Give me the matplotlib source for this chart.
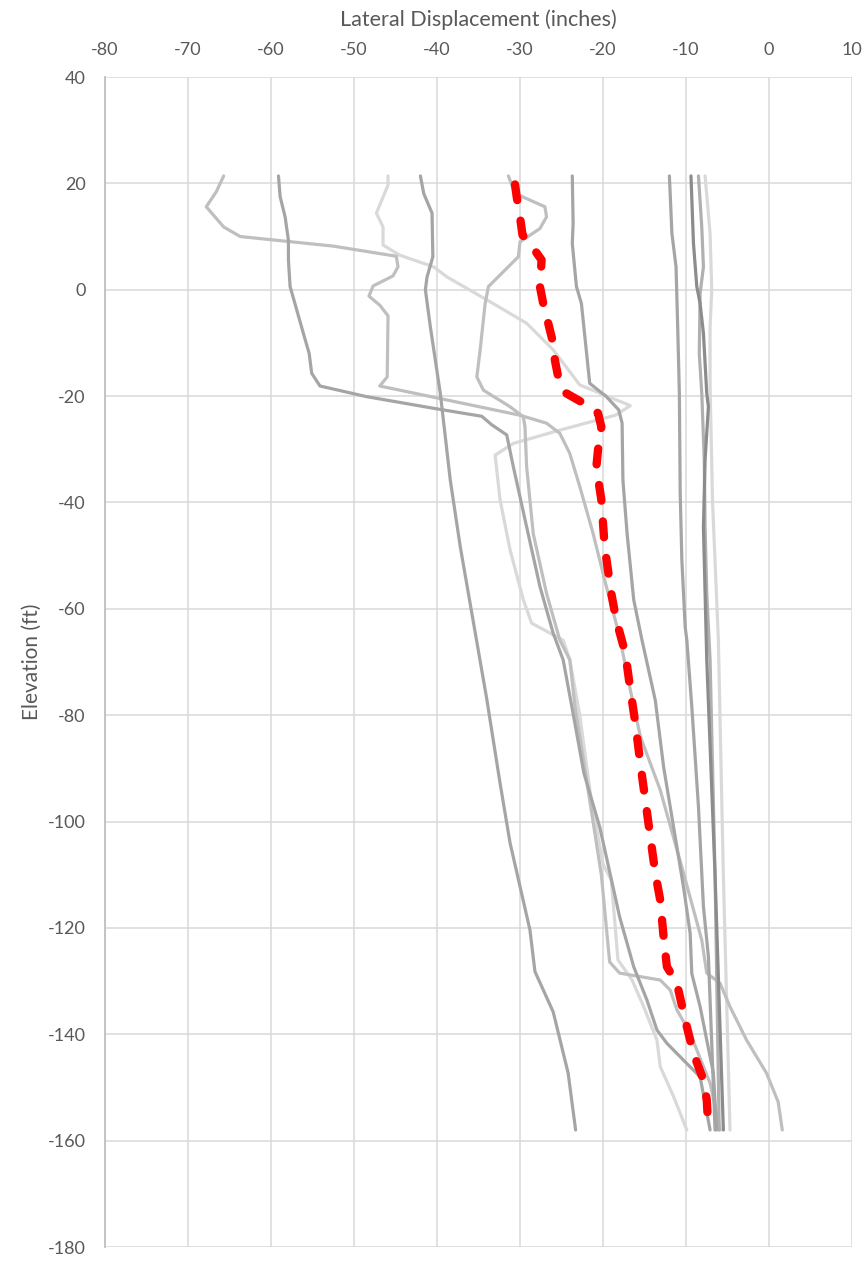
import matplotlib
matplotlib.use("Agg")
import matplotlib.pyplot as plt


plt.rcParams["font.family"] = ["Lato", "DejaVu Sans"]
plt.rcParams["axes.unicode_minus"] = False

# displacement profiles (inches) vs elevation (ft)
a_x = [-65.7, -66.6, -67.8, -65.7, -63.7, -52.5, -44.9, -44.7, -45.3, -47.7, -48.2, -46.9, -45.9, -46.0, -46.9,
       -30.0, -26.8, -25.2, -24.0, -22.8, -21.2, -19.6, -18.3, -17.6, -16.7, -15.5, -13.1, -10.3, -8.1, -7.5,
       -5.9, -4.7, -2.7, -0.3, 1.1, 1.6]
a_y = [21.4, 18.4, 15.6, 11.8, 10.0, 8.2, 6.3, 4.3, 2.6, 0.7, -1.2, -2.9, -4.9, -16.4, -18.1,
       -23.6, -25.1, -27.0, -30.8, -37.0, -45.8, -55.8, -63.4, -68.4, -75.3, -84.0, -94.1, -109.7, -122.3, -128.5,
       -130.4, -134.8, -141.1, -147.3, -152.7, -158.0]

b_x = [-59.1, -58.9, -58.3, -57.9, -57.9, -57.7, -56.9, -56.1, -55.4, -55.1, -54.1, -48.5, -40.4, -34.6, -33.4,
       -31.6, -30.8, -29.2, -27.6, -26.0, -24.8, -23.6, -22.3, -20.4, -19.6, -18.0, -16.3, -14.7, -13.5, -12.3,
       -9.9, -8.3, -7.1]
b_y = [21.4, 17.5, 13.7, 9.3, 5.6, 0.6, -3.8, -8.2, -12.0, -15.7, -18.1, -20.1, -22.3, -23.8, -25.4,
       -27.3, -33.3, -44.6, -55.8, -64.6, -69.6, -79.7, -90.9, -101.0, -106.6, -117.9, -127.3, -133.6, -139.2, -141.7,
       -145.5, -148.0, -158.0]

c_x = [-45.9, -45.9, -47.3, -46.5, -46.5, -44.5, -40.4, -38.8, -34.0, -29.2, -26.0, -22.8, -16.7, -18.5, -25.2,
       -30.8, -33.0, -32.4, -31.2, -29.6, -28.6, -24.8, -24.0, -22.8, -21.5, -20.0, -19.0, -18.2, -16.5, -15.1,
       -13.5, -13.1, -11.5, -9.9]
c_y = [21.4, 19.7, 14.4, 11.8, 8.4, 6.5, 4.3, 2.4, -1.9, -6.3, -11.3, -17.9, -21.8, -23.6, -26.4,
       -28.9, -31.1, -39.5, -48.9, -58.3, -62.7, -65.9, -69.6, -80.0, -95.0, -108.0, -111.0, -126.0, -129.8, -134.8,
       -141.1, -146.1, -151.7, -158.0]

d_x = [-42.0, -41.6, -40.6, -40.5, -41.2, -41.4, -40.8, -39.6, -38.4, -37.2, -34.0, -32.4, -31.2, -28.8, -28.2,
       -26.0, -24.2, -23.3]
d_y = [21.4, 18.1, 14.4, 6.2, 2.4, 0.0, -7.0, -19.5, -35.8, -48.3, -77.0, -92.8, -104.0, -120.4, -128.2,
       -135.8, -147.3, -158.0]

e_x = [-31.4, -30.6, -27.0, -26.8, -27.6, -30.0, -30.2, -33.8, -34.2, -34.8, -35.2, -34.4, -31.2, -29.6, -29.4,
       -29.2, -28.4, -26.8, -25.2, -24.0, -23.4, -22.0, -20.2, -19.2, -18.0, -13.1, -11.9, -11.1, -9.5, -7.1, -5.9]
e_y = [21.4, 18.1, 15.6, 13.7, 11.5, 9.0, 6.2, 0.6, -2.6, -11.3, -16.4, -18.9, -22.0, -23.9, -25.8,
       -33.3, -45.9, -57.1, -65.9, -69.6, -78.0, -92.0, -110.0, -126.4, -128.5, -129.8, -131.7, -135.4, -139.8, -149.2, -158.0]

f_x = [-23.7, -23.6, -23.7, -23.2, -22.6, -21.6, -19.6, -18.1, -17.7, -17.6, -17.1, -16.3, -15.3, -13.7, -12.7,
       -11.5, -10.3, -9.5, -9.3, -8.3, -7.5, -6.7, -6.3]
f_y = [21.4, 12.5, 8.7, 0.6, -2.6, -17.6, -20.1, -22.6, -25.1, -35.8, -45.8, -58.3, -65.9, -77.2, -89.7,
       -101.0, -112.3, -121.0, -128.6, -134.8, -141.1, -147.3, -158.0]

g_x = [-12.0, -11.7, -11.2, -11.0, -10.8, -10.7, -10.5, -10.1, -9.9, -9.3, -8.5, -7.9, -7.3, -6.5]
g_y = [21.4, 10.6, 4.3, -7.0, -19.5, -38.3, -50.8, -63.4, -65.9, -78.4, -97.2, -116.0, -125.4, -158.0]

h_x = [-9.4, -9.1, -8.7, -8.3, -7.9, -7.5, -7.3, -7.7, -7.9, -7.7, -7.5, -6.5, -5.5]
h_y = [21.4, 8.7, 0.6, -2.6, -8.2, -19.5, -22.0, -32.0, -44.6, -57.1, -69.6, -110.0, -158.0]

i_x = [-8.5, -8.1, -7.9, -8.3, -8.4, -8.1, -7.8, -7.7, -7.5, -7.1, -6.5, -6.0]
i_y = [21.4, 11.8, 4.3, -0.7, -12.0, -19.5, -32.0, -44.6, -57.1, -69.6, -110.0, -158.0]

j_x = [-7.7, -7.1, -6.9, -7.1, -7.1, -6.8, -6.1, -5.5, -4.7]
j_y = [21.4, 10.6, 0.0, -7.0, -18.2, -40.0, -65.9, -110.0, -158.0]

# average profile (red dashed)
avg_x = [-30.6, -30.4, -30.0, -29.7, -28.4, -27.4, -27.6, -27.2, -26.6, -26.0, -25.8, -25.4, -24.4, -22.6, -20.6,
         -20.2, -20.6, -20.8, -20.2, -19.8, -19.0, -18.4, -17.3, -16.7, -16.1, -15.5, -14.9, -14.3, -13.7, -13.1,
         -12.7, -12.3, -11.1, -10.1, -9.1, -7.9, -7.5, -7.3]
avg_y = [19.8, 17.5, 13.7, 10.3, 7.8, 5.6, 0.6, -2.6, -6.3, -10.1, -13.2, -16.4, -19.5, -21.1, -23.2,
         -25.8, -30.1, -33.3, -39.5, -48.3, -57.1, -62.1, -68.4, -75.3, -81.5, -89.1, -96.0, -102.9, -109.7, -114.8,
         -121.7, -127.3, -130.4, -137.3, -143.6, -148.6, -152.3, -158.0]

x_ticks = list(range(-80, 11, 10))
y_ticks = list(range(-180, 41, 20))


fig = plt.figure(figsize=(8.66, 12.62), dpi=100)
ax = fig.add_axes([105 / 866, 1 - 1247 / 1262, (852 - 105) / 866, (1247 - 77) / 1262])

# light lines first, darker on top
series = [
    (j_x, j_y, "#d9d9d9"),
    (c_x, c_y, "#d9d9d9"),
    (a_x, a_y, "#bfbfbf"),
    (e_x, e_y, "#bfbfbf"),
    (i_x, i_y, "#b0b0b0"),
    (g_x, g_y, "#a5a5a5"),
    (f_x, f_y, "#a5a5a5"),
    (d_x, d_y, "#a5a5a5"),
    (b_x, b_y, "#a5a5a5"),
    (h_x, h_y, "#8c8c8c"),
]
for sx, sy, col in series:
    ax.plot(sx, sy, color=col, lw=2.3, solid_capstyle="round", solid_joinstyle="round", zorder=2)

ax.plot(avg_x, avg_y, color="#ff0000", lw=6.0, linestyle=(0, (1.9, 2.5)),
        dash_capstyle="round", zorder=3)

ax.set_xlim(-80, 10)
ax.set_ylim(-180, 40)
ax.set_xticks(x_ticks)
ax.set_yticks(y_ticks)
ax.xaxis.tick_top()
ax.xaxis.set_label_position("top")
ax.tick_params(length=0, labelsize=13, labelcolor="#595959")
ax.tick_params(axis="x", pad=14)
ax.tick_params(axis="y", pad=14)
ax.grid(True, color="#d9d9d9", lw=1.1)
ax.set_axisbelow(True)
for side in ["top", "right", "bottom"]:
    ax.spines[side].set_visible(False)
ax.spines["left"].set_color("#bfbfbf")
ax.spines["left"].set_linewidth(1.3)

ax.set_xlabel("Lateral Displacement (inches)", fontsize=15.5, color="#595959", labelpad=11)
ax.set_ylabel("Elevation (ft)", fontsize=15, color="#595959", labelpad=4)

plt.savefig("out.png", dpi=100)
